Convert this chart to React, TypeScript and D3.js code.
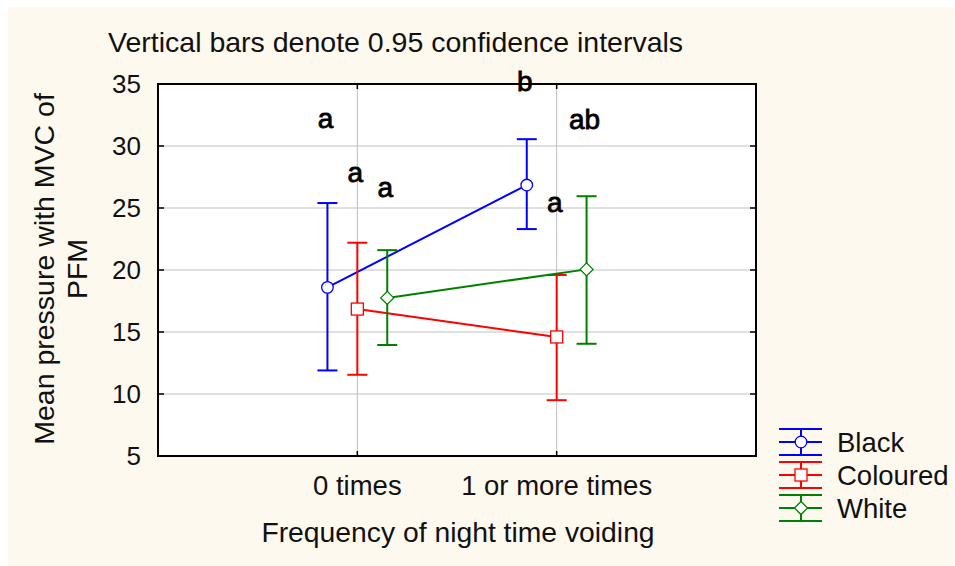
import React from "react";
import * as d3 from "d3";

const groups = ["Black", "Coloured", "White"];
const categories = ["0 times", "1 or more times"];
const meanValues = [
  [18.6, 26.85],
  [16.85, 14.6],
  [17.75, 20.05],
];
const upperValues = [
  [25.4, 30.55],
  [22.2, 19.6],
  [21.6, 25.95],
];
const lowerValues = [
  [11.9, 23.3],
  [11.55, 9.5],
  [13.95, 14.05],
];
const letterLabels = [
  ["a", "b"],
  ["a", "a"],
  ["a", "ab"],
];
const letterY = [
  [31.45, 34.4],
  [27.1, 24.7],
  [25.9, 31.4],
];
const yTicks = [5, 10, 15, 20, 25, 30, 35];

const colors = ["#0000ff", "#ff0000", "#008000"];
const offsets = [-0.15, 0, 0.15];
const font = "Arial, 'Liberation Sans', sans-serif";

const left = 158, right = 756, top = 84, bottom = 456;

function Marker({ kind, x, y, color }: { kind: number; x: number; y: number; color: string }) {
  if (kind === 0) return <circle cx={x} cy={y} r={5.8} fill="#fff" stroke={color} strokeWidth={1.3} />;
  if (kind === 1) return <rect x={x - 6} y={y - 6} width={12} height={12} fill="#fff" stroke={color} strokeWidth={1.3} />;
  const s = 6.5;
  return (
    <path d={`M${x},${y - s}L${x + s},${y}L${x},${y + s}L${x - s},${y}Z`} fill="#fff" stroke={color} strokeWidth={1.3} />
  );
}

export default function App() {
  const x = d3.scaleLinear().domain([0, 3]).range([left, right]);
  const y = d3.scaleLinear().domain([5, 35]).range([bottom, top]);
  const line = d3.line<[number, number]>().x((d) => d[0]).y((d) => d[1]);

  return (
    <svg width={955} height={566} style={{ position: "absolute", left: 0, top: 0 }} fontFamily={font}>
      <rect x={0} y={0} width={955} height={566} fill="#fff" />
      <rect x={8} y={7} width={945} height={559} fill="#fdf9ef" />
      <rect x={left} y={top} width={right - left} height={bottom - top} fill="#fff" />

      {/* grid */}
      {yTicks.slice(1, -1).map((t) => (
        <line key={t} x1={left} x2={right} y1={y(t)} y2={y(t)} stroke="#d6d6d6" strokeWidth={1.5} />
      ))}
      {categories.map((c, i) => (
        <line key={c} x1={x(i + 1)} x2={x(i + 1)} y1={top} y2={bottom} stroke="#bdbdbd" strokeWidth={1} />
      ))}

      {/* ticks */}
      {yTicks.map((t) => (
        <g key={t}>
          <line x1={left} x2={left + 6} y1={y(t)} y2={y(t)} stroke="#000" strokeWidth={1.5} />
          <line x1={right - 6} x2={right} y1={y(t)} y2={y(t)} stroke="#000" strokeWidth={1.5} />
          <text x={141} y={y(t)} dy="0.36em" textAnchor="end" fontSize={26} fill="#111">
            {t}
          </text>
        </g>
      ))}
      {categories.map((c, i) => (
        <g key={c}>
          <line x1={x(i + 1)} x2={x(i + 1)} y1={top} y2={top + 5} stroke="#000" strokeWidth={1.5} />
          <line x1={x(i + 1)} x2={x(i + 1)} y1={bottom - 5} y2={bottom} stroke="#000" strokeWidth={1.5} />
          <text x={x(i + 1)} y={495} textAnchor="middle" fontSize={27.5} fill="#111">
            {c}
          </text>
        </g>
      ))}

      {/* series */}
      {groups.map((g, gi) => {
        const pts: [number, number][] = meanValues[gi].map((v, ci) => [x(ci + 1 + offsets[gi]), y(v)]);
        return (
          <g key={g}>
            <path d={line(pts) || ""} fill="none" stroke={colors[gi]} strokeWidth={2} />
            {pts.map(([px], ci) => (
              <g key={ci} stroke={colors[gi]} strokeWidth={2}>
                <line x1={px} x2={px} y1={y(upperValues[gi][ci])} y2={y(lowerValues[gi][ci])} />
                <line x1={px - 10} x2={px + 10} y1={y(upperValues[gi][ci])} y2={y(upperValues[gi][ci])} />
                <line x1={px - 10} x2={px + 10} y1={y(lowerValues[gi][ci])} y2={y(lowerValues[gi][ci])} />
              </g>
            ))}
            {pts.map(([px, py], ci) => (
              <Marker key={"m" + ci} kind={gi} x={px} y={py} color={colors[gi]} />
            ))}
          </g>
        );
      })}

      {/* frame */}
      <rect x={left} y={top} width={right - left} height={bottom - top} fill="none" stroke="#000" strokeWidth={2} />

      {/* letters */}
      {groups.map((g, gi) =>
        letterLabels[gi].map((lab, ci) => (
          <text
            key={g + ci}
            x={x(ci + 1 + offsets[gi]) - 2}
            y={y(letterY[gi][ci])}
            fontSize={28}
            textAnchor="middle"
            fill="#000"
            stroke="#000"
            strokeWidth={0.8}
          >
            {lab}
          </text>
        ))
      )}

      {/* title & axis labels */}
      <text x={108} y={52} fontSize={28.5} fill="#111">
        Vertical bars denote 0.95 confidence intervals
      </text>
      <text x={458} y={542} textAnchor="middle" fontSize={28.3} fill="#111">
        Frequency of night time voiding
      </text>
      <g transform="translate(0,269) rotate(-90)" textAnchor="middle" fontSize={28.5} fill="#111">
        <text x={0} y={54}>Mean pressure with MVC of</text>
        <text x={0} y={87}>PFM</text>
      </g>

      {/* legend */}
      {groups.map((g, gi) => {
        const cy = 442 + gi * 33;
        return (
          <g key={g}>
            <g stroke={colors[gi]} strokeWidth={2}>
              <line x1={779} x2={822} y1={cy - 13} y2={cy - 13} />
              <line x1={779} x2={822} y1={cy} y2={cy} />
              <line x1={779} x2={822} y1={cy + 13} y2={cy + 13} />
              <line x1={801} x2={801} y1={cy - 13} y2={cy + 13} />
            </g>
            <Marker kind={gi} x={801} y={cy} color={colors[gi]} />
            <text x={837} y={cy} dy="0.36em" fontSize={27.5} fill="#111">
              {g}
            </text>
          </g>
        );
      })}
    </svg>
  );
}
